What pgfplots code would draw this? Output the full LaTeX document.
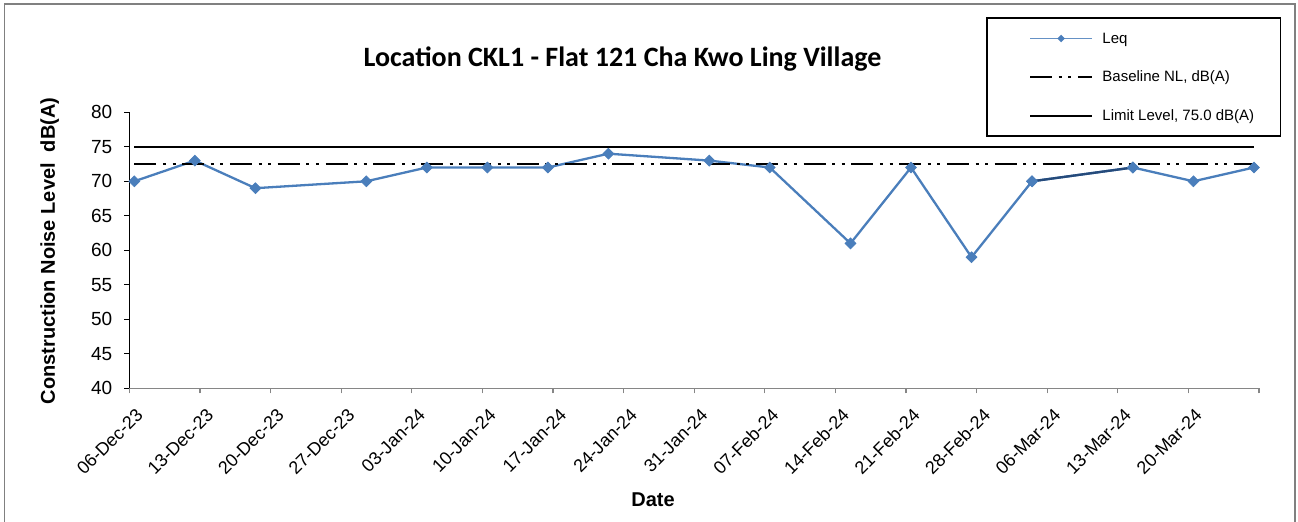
\documentclass[border=0pt]{standalone}
\usepackage{pgfplots}
\pgfplotsset{compat=1.18}
\usepackage{fontspec}
\setmainfont{Liberation Sans}
\newfontfamily\titlefont{Carlito}
\definecolor{leqblue}{HTML}{4A7EBB}
\definecolor{leqdark}{HTML}{254A7A}
\definecolor{framegray}{HTML}{808080}
\definecolor{axisgray}{HTML}{868686}
\begin{document}
\begin{tikzpicture}
\useasboundingbox (0,0) rectangle (649pt,261pt);
\draw[framegray, line width=0.75pt] (2.35pt,-5pt) rectangle (647.5pt,259pt);
\begin{axis}[
  scale only axis, width=564.85pt, height=138pt,
  anchor=south west, at={(64.65pt,66.85pt)},
  xmin=-0.5, xmax=111.5, ymin=40, ymax=80,
  axis x line*=bottom, axis y line*=left,
  x axis line style={axisgray, line width=0.6pt},
  y axis line style={black, line width=0.6pt},
  ytick={40,45,50,55,60,65,70,75,80},
  xtick={-0.5,6.5,13.5,20.5,27.5,34.5,41.5,48.5,55.5,62.5,69.5,76.5,83.5,90.5,97.5,104.5,111.5},
  xticklabels={06-Dec-23,13-Dec-23,20-Dec-23,27-Dec-23,03-Jan-24,10-Jan-24,17-Jan-24,24-Jan-24,31-Jan-24,07-Feb-24,14-Feb-24,21-Feb-24,28-Feb-24,06-Mar-24,13-Mar-24,20-Mar-24,{}},
  tick align=outside, major tick length=2.5pt,
  x tick style={axisgray, line width=0.6pt},
  y tick style={black, line width=0.6pt},
  /pgf/number format/assume math mode=true,
  y tick label style={font=\fontsize{9.5}{11}\selectfont, xshift=-2.5pt},
  x tick label style={font=\fontsize{9}{11}\selectfont, rotate=45, anchor=north east, xshift=0.5pt, yshift=-3.5pt},
  xlabel={Date},
  ylabel={Construction Noise Level\ \ dB(A)},
  xlabel style={font=\bfseries\fontsize{10}{12}\selectfont, at={(axis description cs:0.4636,-0.430)}, anchor=base},
  ylabel style={font=\bfseries\fontsize{10}{12}\selectfont, at={(axis description cs:-0.0658,0.4975)}, anchor=base, rotate=0},
  clip=false,
  legend style={at={(axis description cs:0.7584,1.3442)}, anchor=north west,
    draw=black, line width=0.75pt, inner xsep=0pt, inner ysep=4.3pt,
    row sep=7.5pt, font=\fontsize{7.5}{9}\selectfont, fill=white},
  legend cell align=left,
  legend image code/.code={
    \path (0pt,-3pt) (54.5pt,3pt);
    \draw[#1, line cap=butt] (21pt,0pt) -- (52pt,0pt);
  },
]
\addplot[leqblue, line width=1.15pt, mark=square*, mark size=1.9pt,
  mark options={rotate=45, fill=leqblue, draw=leqblue, line width=0.4pt, solid},
  legend image code/.code={
    \path (0pt,-3pt) (54.5pt,3pt);
    \draw[leqblue!85!white, line width=0.8pt] (21pt,0pt) -- (52pt,0pt);
    \fill[leqblue] (36.5pt,0pt) ++(0,1.1pt) -- ++(1.1pt,-1.1pt) -- ++(-1.1pt,-1.1pt) -- ++(-1.1pt,1.1pt) -- cycle;
  }]
  coordinates {
  (0,70) (6,73) (12,69) (23,70) (29,72) (35,72) (41,72) (47,74) (57,73)
  (63,72) (71,61) (77,72) (83,59) (89,70) (99,72) (105,70) (111,72)
  };
\addlegendentry{\makebox[87pt][l]{\strut Leq}}
\addplot[black, line width=1.3pt, line cap=butt,
  dash pattern=on 11pt off 3.3pt on 1.5pt off 3.3pt on 1.5pt off 3.3pt]
  coordinates {(0,72.5) (111,72.5)};
\addlegendentry{\makebox[87pt][l]{\strut Baseline NL, dB(A)}}
\addplot[black, line width=1pt]
  coordinates {(0,75) (111,75)};
\addlegendentry{\makebox[87pt][l]{\strut Limit Level, 75.0 dB(A)}}
\addplot[leqdark, line width=1.15pt, forget plot] coordinates {(89,70) (99,72)};
\addplot[only marks, mark=square*, mark size=1.9pt, forget plot,
  mark options={rotate=45, fill=leqblue, draw=leqblue, line width=0.4pt}]
  coordinates {(89,70) (99,72)};
\end{axis}
\node[anchor=base, font=\titlefont\bfseries\fontsize{14}{16}\selectfont] at (311.25pt,227.65pt) {Location CKL1 - Flat 121 Cha Kwo Ling Village};
\end{tikzpicture}
\end{document}
